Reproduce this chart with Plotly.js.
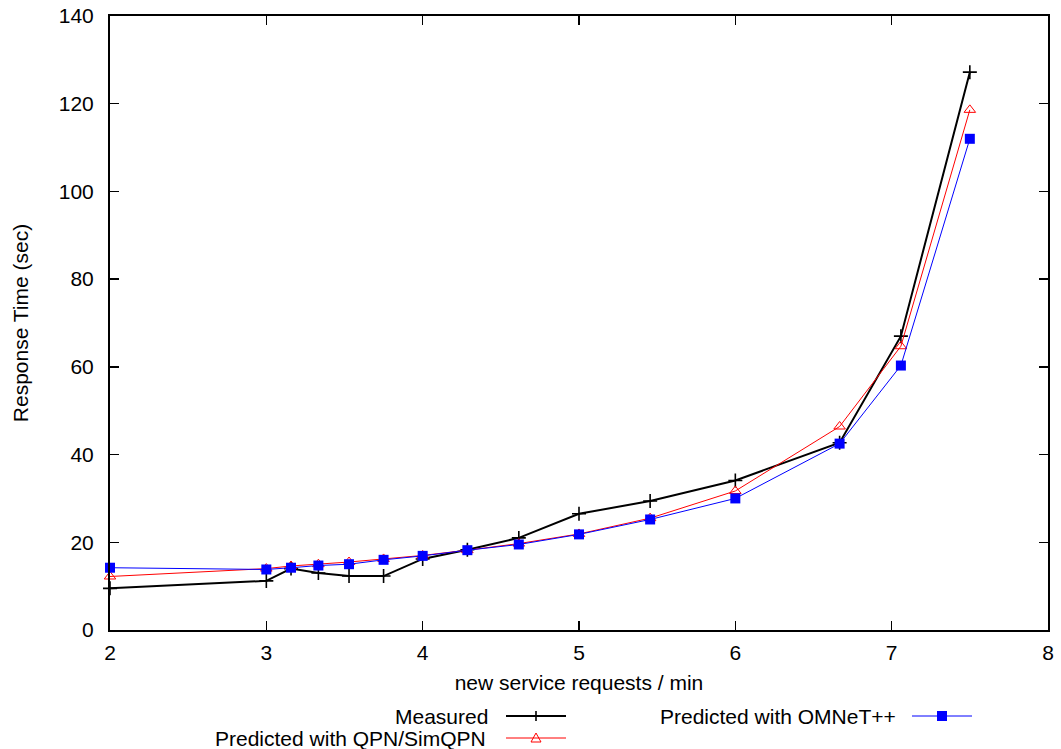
<!DOCTYPE html>
<html>
<head>
<meta charset="utf-8">
<script src="https://cdn.plot.ly/plotly-3.0.1.min.js"></script>
<style>html,body{margin:0;padding:0;background:#fff;}#chart{width:1061px;height:749px;}</style>
</head>
<body>
<div id="chart"></div>
<script>
// Data
const requestsPerMin = [2, 3, 3.158, 3.333, 3.529, 3.75, 4, 4.286, 4.615, 5, 5.455, 6, 6.667, 7.059, 7.5];
const measured = [9.5, 11.2, 14.0, 13.0, 12.3, 12.3, 16.2, 18.3, 21.0, 26.5, 29.4, 34.1, 42.7, 67.0, 127.2];
const predictedQPN = [12.2, 14.0, 14.6, 15.0, 15.5, 16.2, 17.0, 18.2, 19.7, 21.9, 25.5, 31.7, 46.4, 64.7, 118.6];
const predictedOMNeT = [14.2, 13.8, 14.2, 14.7, 15.0, 16.0, 16.9, 18.2, 19.5, 21.8, 25.2, 30.0, 42.5, 60.3, 112.0];
const seriesNames = ["Measured", "Predicted with QPN/SimQPN", "Predicted with OMNeT++"];
const xTitle = "new service requests / min";
const yTitle = "Response Time (sec)";

const FONT = "Liberation Sans, Arial, sans-serif";
const FS = 21;

const traces = [
  {x: requestsPerMin, y: measured, name: seriesNames[0], mode: "lines+markers", showlegend: false, cliponaxis: false,
   line: {color: "#000000", width: 2},
   marker: {symbol: "cross-thin-open", size: 10, color: "#000000", line: {color: "#000000", width: 1.6}}},
  {x: requestsPerMin, y: predictedQPN, name: seriesNames[1], mode: "lines+markers", showlegend: false, cliponaxis: false,
   line: {color: "#ff0000", width: 1},
   marker: {symbol: "triangle-up-open", size: 10, color: "#ff0000", line: {color: "#ff0000", width: 1}}},
  {x: requestsPerMin, y: predictedOMNeT, name: seriesNames[2], mode: "lines+markers", showlegend: false, cliponaxis: false,
   line: {color: "#0000ff", width: 1},
   marker: {symbol: "square", size: 10, color: "#0000ff", line: {width: 0}}}
];

// Custom gnuplot-style key (text right-aligned, sample to the right)
const W = 938, H = 614; // plot area size in px
function px(xp){ return (xp - 110) / W; }
function py(yp){ return (630 - yp) / H; }
const keyItems = [
  {text: seriesNames[0], textRight: 490, lineL: 506, lineR: 566, yp: 716, color: "#000000", width: 2, sym: "plus"},
  {text: seriesNames[1], textRight: 488, lineL: 506, lineR: 566, yp: 738, color: "#ff0000", width: 1, sym: "triangle"},
  {text: seriesNames[2], textRight: 898, lineL: 912, lineR: 972, yp: 716, color: "#0000ff", width: 1, sym: "square"}
];
const annotations = [];
const shapes = [];
keyItems.forEach(k => {
  annotations.push({xref: "paper", yref: "paper", x: px(k.textRight), y: py(k.yp), xanchor: "right", yanchor: "middle",
    text: k.text, showarrow: false, font: {family: FONT, size: FS, color: "#000000"}});
  shapes.push({type: "line", xref: "paper", yref: "paper", x0: px(k.lineL), x1: px(k.lineR), y0: py(k.yp), y1: py(k.yp),
    line: {color: k.color, width: k.width}});
  const cx = px((k.lineL + k.lineR) / 2), cy = py(k.yp);
  const base = {xref: "paper", yref: "paper", xsizemode: "pixel", ysizemode: "pixel", xanchor: cx, yanchor: cy};
  if (k.sym === "plus") {
    shapes.push(Object.assign({}, base, {type: "path", path: "M -5 0 L 5 0 M 0 -5 L 0 5", line: {color: k.color, width: 1.6}}));
  } else if (k.sym === "triangle") {
    shapes.push(Object.assign({}, base, {type: "path", path: "M -5 -4 L 5 -4 L 0 5 Z", line: {color: k.color, width: 1}, fillcolor: "rgba(0,0,0,0)"}));
  } else {
    shapes.push(Object.assign({}, base, {type: "rect", x0: -5, x1: 5, y0: -5, y1: 5, line: {width: 0}, fillcolor: k.color}));
  }
});

const axisCommon = {
  showgrid: false, zeroline: false,
  showline: true, linecolor: "#000000", linewidth: 2, mirror: "ticks",
  ticks: "inside", ticklen: 9, tickwidth: 1.5, tickcolor: "#000000",
  tickfont: {family: FONT, size: FS, color: "#000000"},
  automargin: false
};

const layout = {
  width: 1061, height: 749,
  margin: {l: 110, r: 13, t: 16, b: 119},
  paper_bgcolor: "#ffffff", plot_bgcolor: "#ffffff",
  showlegend: false,
  xaxis: Object.assign({}, axisCommon, {range: [2, 8], dtick: 1, tick0: 2, ticklabelstandoff: 3,
    title: {text: xTitle, font: {family: FONT, size: FS, color: "#000000"}, standoff: 12}}),
  yaxis: Object.assign({}, axisCommon, {range: [0, 140], dtick: 20, tick0: 0, ticklabelstandoff: 10,
    title: {text: yTitle, font: {family: FONT, size: FS, color: "#000000"}, standoff: 24}}),
  annotations: annotations,
  shapes: shapes
};

Plotly.newPlot("chart", traces, layout, {displayModeBar: false, staticPlot: true});
</script>
</body>
</html>
